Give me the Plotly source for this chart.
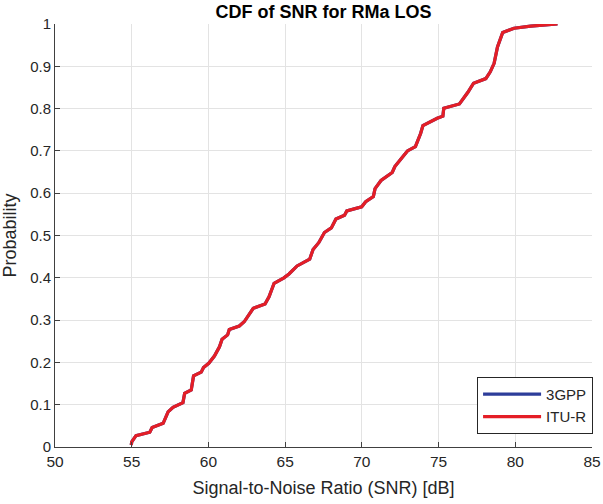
import plotly.graph_objects as go

snr_db = [54.97, 55.0, 55.28, 56.18, 56.33, 57.05, 57.37, 57.69, 58.34, 58.45, 58.88, 59.03,
          59.53, 59.68, 60.02, 60.39, 60.72, 60.89, 61.25, 61.36, 62.01, 62.33, 62.92, 63.69,
          63.95, 64.28, 64.92, 65.25, 65.78, 66.6, 66.82, 67.19, 67.56, 68.01, 68.31, 68.87,
          69.02, 69.99, 70.25, 70.75, 70.86, 71.25, 71.98, 72.15, 72.97, 73.49, 73.83, 73.98,
          74.91, 75.28, 75.34, 76.36, 76.9, 77.28, 78.08, 78.37, 78.62, 78.84, 79.18, 79.92,
          81.0, 82.75]
probability = [0.005, 0.012, 0.027, 0.035, 0.046, 0.056, 0.083, 0.094, 0.105, 0.127, 0.135, 0.168,
               0.177, 0.188, 0.198, 0.215, 0.237, 0.255, 0.265, 0.278, 0.286, 0.296, 0.328, 0.338,
               0.355, 0.387, 0.400, 0.409, 0.428, 0.444, 0.467, 0.483, 0.507, 0.518, 0.539, 0.548,
               0.558, 0.568, 0.580, 0.592, 0.611, 0.630, 0.649, 0.663, 0.700, 0.710, 0.741, 0.760,
               0.777, 0.782, 0.801, 0.811, 0.838, 0.860, 0.871, 0.887, 0.907, 0.946, 0.980, 0.990,
               0.995, 1.0]

series_names = ["3GPP", "ITU-R"]
series_colors = ["#2d3d9a", "#e41e26"]

x_ticks = [50, 55, 60, 65, 70, 75, 80, 85]
y_ticks = [0, 0.1, 0.2, 0.3, 0.4, 0.5, 0.6, 0.7, 0.8, 0.9, 1]
y_tick_labels = ["0", "0.1", "0.2", "0.3", "0.4", "0.5", "0.6", "0.7", "0.8", "0.9", "1"]

fig = go.Figure()
for name, color in zip(series_names, series_colors):
    fig.add_trace(go.Scatter(x=snr_db, y=probability, mode="lines", name=name,
                             line=dict(color=color, width=3.2)))

font_family = "Liberation Sans, Arial, sans-serif"
fig.update_layout(
    width=603, height=504,
    margin=dict(l=55, r=11, t=24, b=57, autoexpand=False),
    paper_bgcolor="white", plot_bgcolor="white",
    font=dict(family=font_family, size=15, color="#262626"),
    title=dict(text="<b>CDF of SNR for RMa LOS</b>", xref="paper", x=0.5, xanchor="center",
               yref="container", y=1 - 12 / 504, yanchor="middle",
               font=dict(size=18, color="#000000")),
    showlegend=True,
    legend=dict(x=1.002, y=0.031, xanchor="right", yanchor="bottom",
                bordercolor="#262626", borderwidth=1, bgcolor="white",
                font=dict(size=15, color="#262626"), tracegroupgap=0,
                itemwidth=58),
)
fig.update_xaxes(
    range=[50, 85], tickvals=x_ticks, ticktext=[str(t) for t in x_ticks],
    showgrid=True, gridcolor="#e3e3e3", gridwidth=1,
    showline=True, linecolor="#404040", linewidth=1,
    ticks="inside", ticklen=5, tickcolor="#404040",
    tickfont=dict(size=15.5), automargin=False,
    zeroline=False, mirror=False,
    title=dict(text="Signal-to-Noise Ratio (SNR) [dB]", font=dict(size=18), standoff=12),
)
fig.update_yaxes(
    range=[0, 1], tickvals=y_ticks, ticktext=y_tick_labels,
    showgrid=True, gridcolor="#e3e3e3", gridwidth=1,
    showline=True, linecolor="#404040", linewidth=1,
    ticks="inside", ticklen=5, tickcolor="#404040",
    tickfont=dict(size=15), automargin=False,
    zeroline=False, mirror=False,
    title=dict(text="Probability", font=dict(size=18), standoff=16),
)
fig.write_html("out.html", config={"displayModeBar": False},
               post_script="document.body.style.margin='0px';")
